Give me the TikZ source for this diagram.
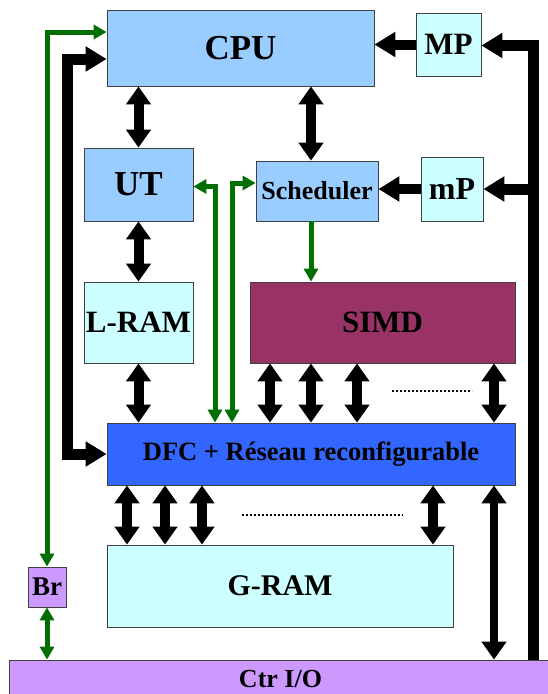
\documentclass[tikz,border=0pt]{standalone}
\usepackage{fontspec}
\setmainfont{Liberation Serif}
\usetikzlibrary{arrows.meta}

\definecolor{cpublue}{HTML}{99CCFF}
\definecolor{ramcyan}{HTML}{CCFFFF}
\definecolor{simdred}{HTML}{993366}
\definecolor{dfcblue}{HTML}{3366FF}
\definecolor{iolilac}{HTML}{CC99FF}
\definecolor{ctlgreen}{HTML}{006E00}

\begin{document}
\begin{tikzpicture}[x=1pt,y=-1pt,
  box/.style={rectangle,draw=black!75,line width=0.8pt,inner sep=0pt},
  fs/.style={font=\bfseries\fontsize{#1}{#1}\selectfont},
  dbl/.style={line width=10pt,{Triangle[width=24pt,length=18pt]}-{Triangle[width=24pt,length=18pt]}},
  one/.style={line width=10pt,-{Triangle[width=24pt,length=21pt]}},
  bus/.style={line width=11pt,{Triangle[width=24pt,length=21pt]}-{Triangle[width=24pt,length=21pt]}},
  ctl/.style={ctlgreen,line width=5pt,{Triangle[width=14pt,length=13pt]}-{Triangle[width=14pt,length=13pt]}},
  dots/.style={line width=2pt,dash pattern=on 2pt off 2pt}]
  \useasboundingbox (0,0) rectangle (548,694);

  % blocks
  \node[box,fill=cpublue,fs=35,minimum width=267pt,minimum height=76pt] (cpu) at (240.5,48) {CPU};
  \node[box,fill=ramcyan,fs=31,minimum width=65pt,minimum height=63pt] (mp) at (448.5,44.5) {MP};
  \node[box,fill=cpublue,fs=35,minimum width=109pt,minimum height=73pt] (ut) at (138.5,184.5) {UT};
  \node[box,fill=cpublue,fs=26,minimum width=122pt,minimum height=60pt] (sched) at (317,191) {Scheduler};
  \node[box,fill=ramcyan,fs=32,minimum width=62pt,minimum height=64pt] (mpp) at (452,189) {mP};
  \node[box,fill=ramcyan,fs=31,minimum width=109pt,minimum height=81pt] (lram) at (138.5,322.5) {L-RAM};
  \node[box,fill=simdred,fs=31,minimum width=265pt,minimum height=81pt] (simd) at (382.5,322.5) {SIMD};
  \node[box,fill=dfcblue,fs=26.5,minimum width=408pt,minimum height=62pt] (dfc) at (311,454) {DFC + Réseau reconfigurable};
  \node[box,fill=ramcyan,fs=30,minimum width=346pt,minimum height=82pt] (gram) at (280,586) {G-RAM};
  \node[box,fill=iolilac,fs=27,minimum width=38pt,minimum height=40pt] (br) at (47,587) {Br};
  \node[box,fill=iolilac,fs=26,minimum width=543pt,minimum height=38pt] (ctr) at (280.5,679) {Ctr I/O};

  \coordinate (lbus) at (67,0);
  \coordinate (rbus) at (533,0);
  \coordinate (gut) at (215,0);
  \coordinate (gsch) at (232,0);
  \coordinate (sx) at (311,0);

  % data paths
  \draw[dbl] (ut.north |- cpu.south) -- (ut.north);
  \draw[dbl] (cpu.south -| sx) -- (sched.north -| sx);
  \draw[dbl] (ut.south) -- (lram.north);
  \draw[dbl] (lram.south) -- (lram.south |- dfc.north);
  \foreach \x in {270,311,357,494}
    \draw[dbl] (simd.south -| \x,0) -- (dfc.north -| \x,0);
  \foreach \x in {127,165,202,433}
    \draw[dbl] (dfc.south -| \x,0) -- (gram.north -| \x,0);
  \draw[dbl,line width=8pt] (dfc.south -| 494,0) -- (ctr.north -| 494,0);
  \draw[dots] (392,391) -- (472,391);
  \draw[dots] (242,515) -- (403,515);

  % program loading
  \draw[one] (mp.west) -- (mp.west -| cpu.east);
  \draw[one] (mpp.west) -- (mpp.west -| sched.east);
  \draw[line width=11pt,-{Triangle[width=24pt,length=21pt]}] (ctr.north -| rbus) |- ([yshift=-1pt]mp.east);
  \draw[line width=11pt,-{Triangle[width=24pt,length=21pt]}] (mpp.east -| rbus) -- (mpp.east);
  \draw[bus] ([yshift=-11pt]cpu.west) -| (lbus |- dfc.west) -- (dfc.west);

  % control
  \draw[ctl] ([yshift=16pt]cpu.west) -| (br.north);
  \draw[ctl] (br.south) -- (br.south |- ctr.north);
  \draw[ctl] ([yshift=-2pt]ut.east) -| (gut |- dfc.north);
  \draw[ctl] ([yshift=8pt]sched.west) -| (gsch |- dfc.north);
  \draw[ctl,-{Triangle[width=14pt,length=13pt]}] (sched.south -| sx) -- (simd.north -| sx);
\end{tikzpicture}
\end{document}
